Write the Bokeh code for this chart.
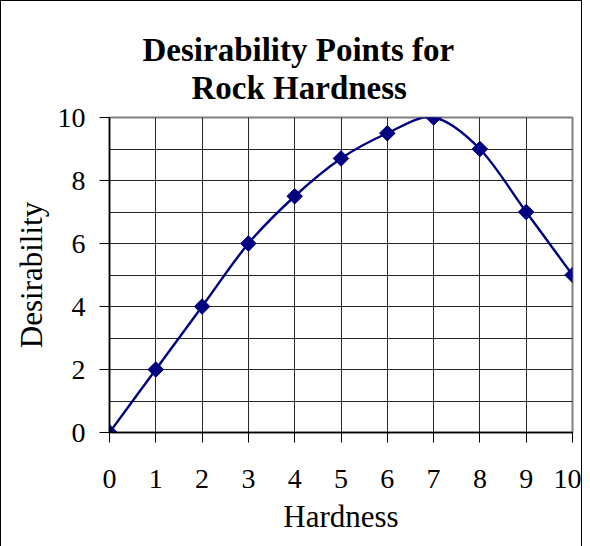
import numpy as np
from bokeh.plotting import figure
from bokeh.layouts import column
from bokeh.models import ColumnDataSource, FixedTicker, Range1d, Title
from bokeh.embed import file_html
from bokeh.resources import INLINE

hardness = [0, 1, 2, 3, 4, 5, 6, 7, 8, 9, 10]
desirability = [0, 2, 4, 6, 7.5, 8.7, 9.5, 10, 9, 7, 5]
x_ticks = [0, 1, 2, 3, 4, 5, 6, 7, 8, 9, 10]
y_ticks = [0, 2, 4, 6, 8, 10]
title_lines = ["Desirability Points for", "Rock Hardness"]

FONT = "Liberation Serif"
NAVY = "#000080"

p = figure(width=580, height=545, output_backend="svg", toolbar_location=None,
           x_range=Range1d(0, 10), y_range=Range1d(0, 10),
           min_border_left=108, min_border_right=9, min_border_top=116,
           min_border_bottom=114)
p.background_fill_color = "white"
p.border_fill_color = "white"
p.outline_line_color = "#808080"
p.outline_line_width = 2

# title: two lines ("Rock Hardness" nearest the plot)
p.title.text = title_lines[0]
p.title.text_font = FONT
p.title.text_font_size = "33px"
p.title.text_font_style = "bold"
p.title.text_color = "#000000"
p.title.align = "left"
p.title.offset = 33
p.title.standoff = -24
p.add_layout(Title(text=title_lines[1], text_font=FONT, text_font_size="33px",
                   text_font_style="bold", text_color="#000000", align="left",
                   offset=82, standoff=24), "above")

# grid
p.xgrid.ticker = FixedTicker(ticks=x_ticks)
p.ygrid.ticker = FixedTicker(ticks=list(range(0, 11)))
for g in (p.xgrid, p.ygrid):
    g.grid_line_color = "#000000"
    g.grid_line_width = 1
    g.grid_line_alpha = 0.85

# axes
p.xaxis.ticker = FixedTicker(ticks=x_ticks)
p.yaxis.ticker = FixedTicker(ticks=y_ticks)
for ax in (p.xaxis[0], p.yaxis[0]):
    ax.axis_line_color = "#000000"
    ax.axis_line_width = 1.5
    ax.major_tick_line_color = "#000000"
    ax.major_tick_in = 0
    ax.major_tick_out = 10
    ax.minor_tick_line_color = None
    ax.major_label_text_font = FONT
    ax.major_label_text_font_size = "28px"
    ax.major_label_text_color = "#000000"
    ax.axis_label_text_font = FONT
    ax.axis_label_text_font_size = "31px"
    ax.axis_label_text_font_style = "normal"
    ax.axis_label_text_color = "#000000"
p.xaxis.axis_label = "Hardness"
p.yaxis.axis_label = "Desirability"
p.xaxis.major_label_standoff = 27
p.xaxis.axis_label_standoff = 8
p.yaxis.major_label_standoff = 14
p.yaxis.axis_label_standoff = 6

# smoothed line (Catmull-Rom style bezier segments between data points)
xs = np.array(hardness, dtype=float)
ys = np.array(desirability, dtype=float)
n = len(xs)
xp = np.concatenate([[xs[0]], xs, [xs[-1]]])
yp = np.concatenate([[ys[0]], ys, [ys[-1]]])
i = np.arange(n - 1)
seg = ColumnDataSource(dict(
    x0=xs[:-1], y0=ys[:-1], x1=xs[1:], y1=ys[1:],
    cx0=xs[:-1] + (xp[i + 2] - xp[i]) / 6.0,
    cy0=ys[:-1] + (yp[i + 2] - yp[i]) / 6.0,
    cx1=xs[1:] - (xp[i + 3] - xp[i + 1]) / 6.0,
    cy1=ys[1:] - (yp[i + 3] - yp[i + 1]) / 6.0,
))
p.bezier(x0="x0", y0="y0", x1="x1", y1="y1", cx0="cx0", cy0="cy0",
         cx1="cx1", cy1="cy1", source=seg, line_color=NAVY, line_width=2.4)

pts = ColumnDataSource(dict(x=hardness, y=desirability))
p.scatter("x", "y", source=pts, marker="square", angle=np.pi / 4, size=11,
          fill_color=NAVY, line_color=NAVY)

layout = column(p, styles={"border-left": "1px solid black",
                           "border-top": "1px solid black",
                           "border-right": "1px solid black"})

open("out.html", "w").write(file_html(layout, INLINE))
